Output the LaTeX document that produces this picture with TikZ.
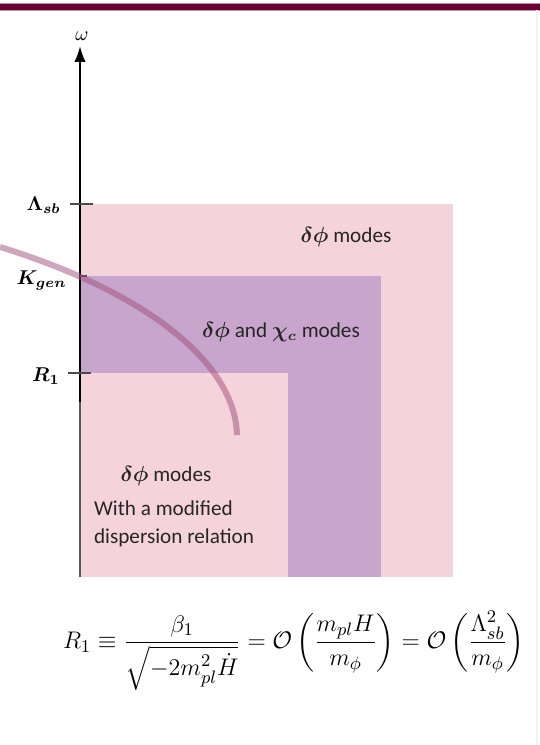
\documentclass[tikz,border=0pt]{standalone}
\usepackage{amsmath}
\usepackage{amssymb}
\usepackage{bm}
\usepackage{fontspec}
\setmainfont{Carlito}
\usetikzlibrary{arrows.meta, positioning}
\definecolor{slidebar}{HTML}{6A0036}
\definecolor{softpink}{HTML}{F5D3DA}
\definecolor{mauve}{HTML}{C8A5CC}
\definecolor{curvecol}{HTML}{A04F7A}

\begin{document}
\begin{tikzpicture}[
    x=0.5pt, y=-0.5pt,
    >={Latex[width=2mm]},
    every node/.style={font=\fontsize{10.6}{14}\selectfont},
    scaletick/.style={gray!60!black, line width=0.6pt},
    scalelabel/.style={anchor=east, inner sep=1pt, font=\fontsize{9.8}{11}\selectfont},
    modes/.style={text=black!85},
]
\useasboundingbox (0,0) rectangle (540,745);
% slide frame
\draw[slidebar!45, line width=3.6pt] (0,7) -- (540,7);
\draw[slidebar, line width=2.6pt] (0,7) -- (540,7);
\draw[slidebar!6, line width=0.6pt] (537,10) -- (537,745);
% regions: outer pink square, mauve band, inner pink block
\fill[softpink] (80,204) rectangle (453,577);
\fill[mauve] (80,276) rectangle (381,577);
\fill[softpink] (80,373) rectangle (288,577);
% frequency axis with the three scales
\draw[gray!70!black, line width=0.6pt] (80,402) -- (80,577);
\draw[->, line width=1.1pt] (80,402) -- (80,46) coordinate (top);
\node[font=\fontsize{10}{12}\selectfont] (omega) at (82,36) {$\omega$};
\draw[scaletick] (70,204) -- (93,204);
\draw[scaletick] (80,276) -- (87,276);
\draw[scaletick] (68,373) -- (91,373);
\node[scalelabel] (lsblab) at (63,205) {$\bm{\Lambda_{sb}}$};
\node[scalelabel] (kgenlab) at (69,280) {$\bm{K_{gen}}$};
\node[scalelabel] (ronelab) at (62,376) {$\bm{R_1}$};
% dispersion curve
\draw[curvecol, opacity=0.5, line width=3pt] (0,247) .. controls (140,290) and (235,360) .. (237,435);
% labels of the regions
\node[modes] (outer) at (346,237) {$\bm{\delta\phi}$ modes};
\node[modes] (band) at (281,332) {$\bm{\delta\phi}$ and $\bm{\chi_c}$ modes};
\node[modes] (inner) at (166,476) {$\bm{\delta\phi}$ modes};
\node[modes, align=left, anchor=west] (modified) at (87,524) {With a modified\\dispersion relation};
% definition of R1
\node[font=\fontsize{12.2}{14}\selectfont] (defr) at (294,651)
  {$\displaystyle R_1\equiv\frac{\beta_1}{\sqrt{-2m_{pl}^2\dot H}}=\mathcal{O}\left(\frac{m_{pl}H}{m_\phi}\right)=\mathcal{O}\left(\frac{\Lambda_{sb}^2}{m_\phi}\right)$};
\end{tikzpicture}
\end{document}
